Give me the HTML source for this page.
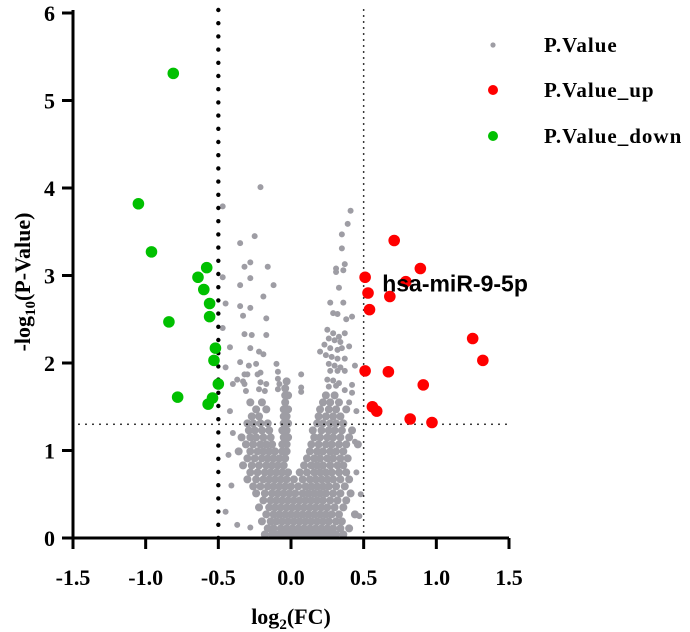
<!DOCTYPE html>
<html><head><meta charset="utf-8"><style>
html,body{margin:0;padding:0;background:#fff;}
svg{display:block;}
text{font-family:"Liberation Serif",serif;font-weight:bold;fill:#000;}
</style></head><body>
<svg id="chart" width="690" height="632" viewBox="0 0 690 632" xmlns="http://www.w3.org/2000/svg"></svg>
<script>
const xTicks = [-1.5, -1.0, -0.5, 0.0, 0.5, 1.0, 1.5];
const xTickLabels = ["-1.5", "-1.0", "-0.5", "0.0", "0.5", "1.0", "1.5"];
const yTicks = [0, 1, 2, 3, 4, 5, 6];
const yTickLabels = ["0", "1", "2", "3", "4", "5", "6"];
const fcThreshold = 0.5;
const pThreshold = 1.3;
const upX = [0.71, 0.89, 0.51, 0.79, 0.53, 0.68, 0.54, 1.25, 1.32, 0.51, 0.67, 0.91, 0.56, 0.59, 0.82, 0.97];
const upY = [3.40, 3.08, 2.98, 2.93, 2.80, 2.76, 2.61, 2.28, 2.03, 1.91, 1.90, 1.75, 1.50, 1.45, 1.36, 1.32];
const downX = [-0.81, -1.05, -0.96, -0.58, -0.64, -0.60, -0.56, -0.56, -0.84, -0.52, -0.53, -0.50, -0.78, -0.54, -0.57];
const downY = [5.31, 3.82, 3.27, 3.09, 2.98, 2.84, 2.68, 2.53, 2.47, 2.17, 2.03, 1.76, 1.61, 1.60, 1.53];
const grayOutliers = [[-0.21,4.01],[-0.47,3.79],[-0.25,3.45],[-0.35,3.37],[-0.32,3.10],[-0.28,3.15],[-0.16,3.10],[-0.47,2.98],[-0.28,2.97],[-0.35,2.89],[-0.12,2.89],[-0.19,2.76],[-0.45,2.68],[-0.35,2.65],[-0.28,2.63],[-0.33,2.54],[-0.17,2.51],[-0.47,2.40],[-0.32,2.33],[-0.27,2.32],[-0.17,2.32],[-0.42,2.18],[-0.28,2.17],[-0.22,2.13],[-0.19,2.10],[-0.10,1.99],[-0.35,2.01],[-0.29,1.97],[-0.24,1.99],[-0.45,1.95],[-0.32,1.87],[-0.30,1.87],[-0.23,1.87],[-0.21,1.89],[-0.09,1.90],[-0.37,1.81],[-0.33,1.79],[-0.40,1.76],[-0.32,1.76],[-0.21,1.78],[-0.17,1.76],[-0.09,1.82],[-0.08,1.76],[-0.31,1.68],[-0.22,1.70],[-0.18,1.68],[-0.09,1.70],[0.07,1.67],[-0.84,2.44],
[0.41,3.74],[0.39,3.59],[0.35,3.47],[0.35,3.31],[0.37,3.13],[0.31,3.08],[0.36,3.06],[0.31,3.04],[0.33,2.86],[0.27,2.69],[0.36,2.69],[0.29,2.57],[0.32,2.56],[0.38,2.50],[0.42,2.53],[0.25,2.38],[0.29,2.34],[0.33,2.30],[0.37,2.34],[0.26,2.28],[0.30,2.26],[0.34,2.24],[0.23,2.21],[0.27,2.17],[0.32,2.15],[0.35,2.17],[0.40,2.19],[0.20,2.13],[0.24,2.09],[0.28,2.07],[0.32,2.05],[0.37,2.05],[0.26,1.99],[0.30,1.97],[0.34,1.95],[0.44,1.97],[0.27,1.91],[0.32,1.91],[0.37,1.91],[0.25,1.81],[0.29,1.80],[0.33,1.77],[0.42,1.75],[0.07,1.87],[0.26,1.73],[0.31,1.74],[0.37,1.69],[0.42,1.66],[0.07,1.72],
[-0.43,0.95],[-0.41,0.6],[-0.45,0.3],[-0.37,0.15],[-0.28,0.12],[0.45,0.75],[0.47,0.25],[0.44,1.1],[0.48,0.5],[-0.40,1.2],[-0.42,1.45],[0.45,1.45],[0.40,1.55]];
const grayRowY = [0.04,0.11,0.19,0.27,0.35,0.43,0.51,0.59,0.67,0.75,0.83,0.91,0.99,1.07,1.15,1.23,1.31,1.39,1.47,1.55,1.63,1.71,1.79];
const grayRowX = [
[-0.18,-0.13,-0.09,-0.05,-0.01,0.03,0.07,0.11,0.15,0.19,0.23,0.27,0.31,0.36],
[-0.16,-0.12,-0.07,-0.03,0.01,0.05,0.09,0.13,0.17,0.21,0.25,0.29,0.34,0.40],
[-0.20,-0.14,-0.10,-0.06,-0.02,0.02,0.06,0.10,0.14,0.18,0.22,0.26,0.31,0.35],
[-0.17,-0.12,-0.08,-0.04,0.00,0.04,0.08,0.12,0.16,0.20,0.24,0.28,0.33,0.44],
[-0.22,-0.15,-0.11,-0.07,-0.03,0.01,0.05,0.09,0.13,0.17,0.21,0.25,0.30,0.36],
[-0.19,-0.14,-0.10,-0.06,-0.02,0.02,0.06,0.10,0.14,0.18,0.22,0.27,0.32,0.38],
[-0.24,-0.18,-0.13,-0.09,-0.05,-0.01,0.03,0.08,0.12,0.16,0.20,0.24,0.29,0.34,0.41],
[-0.26,-0.21,-0.16,-0.12,-0.08,-0.04,0.00,0.05,0.10,0.14,0.18,0.22,0.26,0.31,0.37],
[-0.30,-0.24,-0.19,-0.15,-0.11,-0.07,-0.03,0.02,0.08,0.13,0.17,0.21,0.25,0.29,0.34,0.40],
[-0.28,-0.23,-0.18,-0.14,-0.10,-0.06,-0.02,0.06,0.11,0.16,0.20,0.24,0.28,0.33,0.38],
[-0.33,-0.27,-0.22,-0.17,-0.13,-0.09,-0.05,0.09,0.14,0.18,0.22,0.27,0.32,0.36],
[-0.30,-0.25,-0.20,-0.16,-0.12,-0.08,-0.04,0.11,0.16,0.20,0.25,0.29,0.34,0.39],
[-0.36,-0.28,-0.23,-0.19,-0.15,-0.11,-0.06,-0.03,0.13,0.18,0.22,0.27,0.31,0.36],
[-0.31,-0.26,-0.21,-0.17,-0.13,-0.06,-0.03,0.14,0.19,0.24,0.28,0.33,0.38,0.46],
[-0.34,-0.28,-0.24,-0.19,-0.14,-0.05,-0.02,0.16,0.20,0.25,0.29,0.34,0.40],
[-0.29,-0.25,-0.20,-0.15,-0.06,-0.03,0.15,0.21,0.26,0.30,0.35,0.42],
[-0.30,-0.26,-0.21,-0.16,-0.05,-0.02,0.18,0.22,0.27,0.31,0.36],
[-0.27,-0.22,-0.05,-0.03,0.19,0.24,0.29,0.34],
[-0.24,-0.17,-0.05,-0.02,0.20,0.26,0.31,0.38],
[-0.28,-0.20,-0.04,0.22,0.27,0.33],
[-0.04,-0.02,0.24,0.30],
[-0.04],
[-0.03]];
const annotationLabel = "hsa-miR-9-5p";
const annotationX = 0.60, annotationY = 2.90;

const X0 = 73, X1 = 509, Y0 = 538, Y1 = 13;
const xMin = -1.5, xMax = 1.5, yMin = 0, yMax = 6;
function sx(v){ return X0 + (v - xMin) / (xMax - xMin) * (X1 - X0); }
function sy(v){ return Y0 - (v - yMin) / (yMax - yMin) * (Y0 - Y1); }

const svg = document.getElementById('chart');
const NS = 'http://www.w3.org/2000/svg';
function mk(tag, attrs, parent){
  const e = document.createElementNS(NS, tag);
  for (const k in attrs) e.setAttribute(k, attrs[k]);
  (parent || svg).appendChild(e);
  return e;
}

const gG = mk('g', {});


grayRowY.forEach((yv, i) => {
  grayRowX[i].forEach(xv => {
    const c = mk('circle', {cx: sx(xv), cy: sy(yv), r: 4, fill: '#9e9da4'}, gG);
    
    
  });
});
grayOutliers.forEach(p => {
  const c = mk('circle', {cx: sx(p[0]), cy: sy(p[1]), r: 3, fill: '#9e9da4'}, gG);
  
  
});

const l1 = mk('line', {x1: sx(-fcThreshold), x2: sx(-fcThreshold), y1: 10, y2: Y0, stroke: '#000', 'stroke-width': 4.4, 'stroke-linecap': 'round', 'stroke-dasharray': '0 13.2'});


const l2 = mk('line', {x1: sx(fcThreshold), x2: sx(fcThreshold), y1: 10, y2: Y0, stroke: '#000', 'stroke-width': 1.8, 'stroke-linecap': 'round', 'stroke-dasharray': '0 6'});


const l3 = mk('line', {x1: X0 + 6, x2: X1, y1: sy(pThreshold), y2: sy(pThreshold), stroke: '#000', 'stroke-width': 1.8, 'stroke-linecap': 'round', 'stroke-dasharray': '0 7'});



upX.forEach((xv, i) => {
  const c = mk('circle', {cx: sx(xv), cy: sy(upY[i]), r: 5.8, fill: '#ff0000'});
  
  
});
downX.forEach((xv, i) => {
  const c = mk('circle', {cx: sx(xv), cy: sy(downY[i]), r: 5.8, fill: '#00c000'});
  
  
});

const ax = mk('path', {d: `M${X0},10 V${Y0} H${X1}`, fill: 'none', stroke: '#000', 'stroke-width': 3});


xTicks.forEach((v, i) => {
  const t = mk('line', {x1: sx(v), x2: sx(v), y1: Y0, y2: Y0 + 11, stroke: '#000', 'stroke-width': 3});
  
  
  const lb = mk('text', {x: sx(v), y: 585, 'font-size': 22, 'text-anchor': 'middle'});
  lb.textContent = xTickLabels[i];
  
  
});
yTicks.forEach((v, i) => {
  const t = mk('line', {x1: X0 - 11, x2: X0, y1: sy(v), y2: sy(v), stroke: '#000', 'stroke-width': 3});
  
  
  const lb = mk('text', {x: 55, y: sy(v) + 8, 'font-size': 22, 'text-anchor': 'end'});
  lb.textContent = yTickLabels[i];
  
  
});

const an = mk('text', {x: sx(annotationX) + 4, y: sy(annotationY) + 7, 'font-size': 23, style: 'font-family:"Liberation Sans",sans-serif;font-weight:bold'});
an.textContent = annotationLabel;


</script>
<svg style="position:absolute;left:0;top:0" width="690" height="632">
  <text x="291" y="624" font-size="22" text-anchor="middle" style="font-family:'Liberation Serif',serif;font-weight:bold">log<tspan font-size="15" dy="5">2</tspan><tspan dy="-5">(FC)</tspan></text>
  <text transform="translate(30,282) rotate(-90)" font-size="22" text-anchor="middle" style="font-family:'Liberation Serif',serif;font-weight:bold">-log<tspan font-size="15" dy="5">10</tspan><tspan dy="-5">(P-Value)</tspan></text>
  <g style="font-family:'Liberation Serif',serif;font-weight:bold" font-size="21">
    <circle cx="493" cy="45" r="2.6" fill="#9e9da4"/>
    <text x="544" y="52" letter-spacing="1">P.Value</text>
    <circle cx="493" cy="90" r="5" fill="#ff0000"/>
    <text x="544" y="97" letter-spacing="1">P.Value_up</text>
    <circle cx="493" cy="136" r="5" fill="#00c000"/>
    <text x="544" y="143" letter-spacing="1">P.Value_down</text>
  </g>
</svg>
</body></html>
